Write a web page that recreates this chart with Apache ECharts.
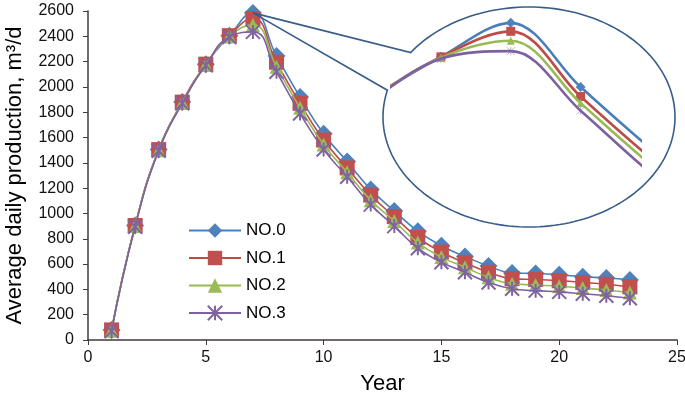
<!DOCTYPE html>
<html>
<head>
<meta charset="utf-8">
<script src="https://cdn.jsdelivr.net/npm/echarts@6/dist/echarts.min.js"></script>
<style>
html,body{margin:0;padding:0;background:#fff;}
#chart{width:685px;height:402px;}
</style>
</head>
<body>
<div id="chart"></div>
<script>
const years = [1,2,3,4,5,6,7,8,9,10,11,12,13,14,15,16,17,18,19,20,21,22,23];
const seriesNames = ['NO.0','NO.1','NO.2','NO.3'];
const no0 = [80,905,1505,1880,2180,2405,2585,2245,1920,1630,1410,1190,1020,860,745,660,585,530,525,515,500,490,475];
const no1 = [80,905,1505,1880,2180,2405,2540,2195,1870,1580,1360,1145,975,810,695,610,535,485,478,468,455,440,420];
const no2 = [75,900,1500,1875,2175,2400,2490,2160,1835,1545,1325,1105,940,770,655,575,495,445,435,425,410,395,375];
const no3 = [70,895,1495,1870,2170,2395,2435,2120,1790,1505,1290,1070,900,725,615,535,455,405,390,380,365,350,330];
const xTicks = [0,5,10,15,20,25];
const yTicks = [0,200,400,600,800,1000,1200,1400,1600,1800,2000,2200,2400,2600];

const values = [no0,no1,no2,no3];
const colors = ['#4F81BD','#C0504D','#9BBB59','#8064A2'];
const lineColors = ['#4A7EBB','#BE4B48','#98B954','#7D60A0'];
const starPath = 'path://M0 0L12 12M12 0L0 12M6 0L6 12';
const symbols = ['diamond','rect','triangle',starPath];
const sizes = [18,15,14,14];
const insetSizes = [10,9,8,8];

const pts = v => years.map((y,i)=>[y,v[i]]);
const FONT = '"Liberation Sans", Arial, sans-serif';

const series = [];
values.forEach((v,i)=>{
  series.push({
    name: seriesNames[i], type:'line', xAxisIndex:0, yAxisIndex:0,
    data: pts(v), smooth:0.5, symbol: symbols[i], symbolSize: sizes[i],
    lineStyle:{color:lineColors[i], width:1.6},
    itemStyle: i===3 ? {color:colors[i], borderColor:colors[i], borderWidth:2} : {color:colors[i]},
    z: 2 + i
  });
});
values.forEach((v,i)=>{
  series.push({
    name: 'inset ' + seriesNames[i], type:'line', xAxisIndex:1, yAxisIndex:1,
    data: pts(v), smooth:0.35, symbol: symbols[i], symbolSize: insetSizes[i],
    lineStyle:{color:lineColors[i], width:2.6},
    itemStyle: i===3 ? {color:colors[i], borderColor:colors[i], borderWidth:1, opacity:0.5} : {color:colors[i]},
    clip:true, z: 2 + i
  });
});

const chart = echarts.init(document.getElementById('chart'), null, {renderer:'canvas'});
chart.setOption({
  animation:false,
  backgroundColor:'#fff',
  textStyle:{fontFamily:FONT},
  grid:[
    {left:88, right:8, top:11, bottom:62, containLabel:false, outerBoundsMode:'none'},
    {left:392, width:248, top:20, height:170, containLabel:false, outerBoundsMode:'none'}
  ],
  legend:{
    data: seriesNames, orient:'vertical', left:183, top:217,
    itemWidth:52, itemHeight:18, itemGap:10.5,
    textStyle:{fontSize:17, color:'#000', fontFamily:FONT}
  },
  xAxis:[{
    type:'value', gridIndex:0, min:xTicks[0], max:xTicks[xTicks.length-1], interval:5,
    name:'Year', nameLocation:'middle', nameGap:33,
    nameTextStyle:{fontSize:22, color:'#000', fontFamily:FONT},
    axisLine:{lineStyle:{color:'#403a38', width:1.5}},
    axisTick:{show:true, length:5, lineStyle:{color:'#403a38'}},
    axisLabel:{fontSize:16, color:'#111', margin:10, fontFamily:FONT, formatter: v => String(v)},
    splitLine:{show:false}
  },{
    type:'value', gridIndex:1, min:5.3, max:8.85, show:false, splitLine:{show:false}
  }],
  yAxis:[{
    type:'value', gridIndex:0, min:yTicks[0], max:yTicks[yTicks.length-1], interval:200,
    name:'Average daily production, m³/d', nameLocation:'middle', nameGap:62,
    nameTextStyle:{fontSize:22, color:'#000', fontFamily:FONT},
    axisLine:{show:true, lineStyle:{color:'#403a38', width:1.5}},
    axisTick:{show:true, length:5, lineStyle:{color:'#403a38'}},
    axisLabel:{fontSize:16, color:'#111', margin:14, fontFamily:FONT, formatter: v => String(v)},
    splitLine:{show:false}
  },{
    type:'value', gridIndex:1, min:1700, max:2600, show:false, splitLine:{show:false}
  }],
  series: series
});

// Magnifier callout: ellipse with a wedge pointing to the peak
const tip = chart.convertToPixel({gridIndex:0}, [years[6], no0[6]]);
const cx = 529, cy = 117, rx = 146, ry = 110;
const a1 = 215.9, a2 = 194.1 + 360;
const poly = [tip];
for (let a = a1; a <= a2 + 0.001; a += 2) {
  const r = a * Math.PI / 180;
  poly.push([cx + rx*Math.cos(r), cy + ry*Math.sin(r)]);
}
const rEnd = a2 * Math.PI / 180;
poly.push([cx + rx*Math.cos(rEnd), cy + ry*Math.sin(rEnd)]);
poly.push(tip);
chart.setOption({
  graphic:[{
    type:'polyline', z:100, silent:true,
    shape:{points:poly},
    style:{stroke:'#385D8A', lineWidth:1.6, fill:null}
  }]
});
</script>
</body>
</html>
